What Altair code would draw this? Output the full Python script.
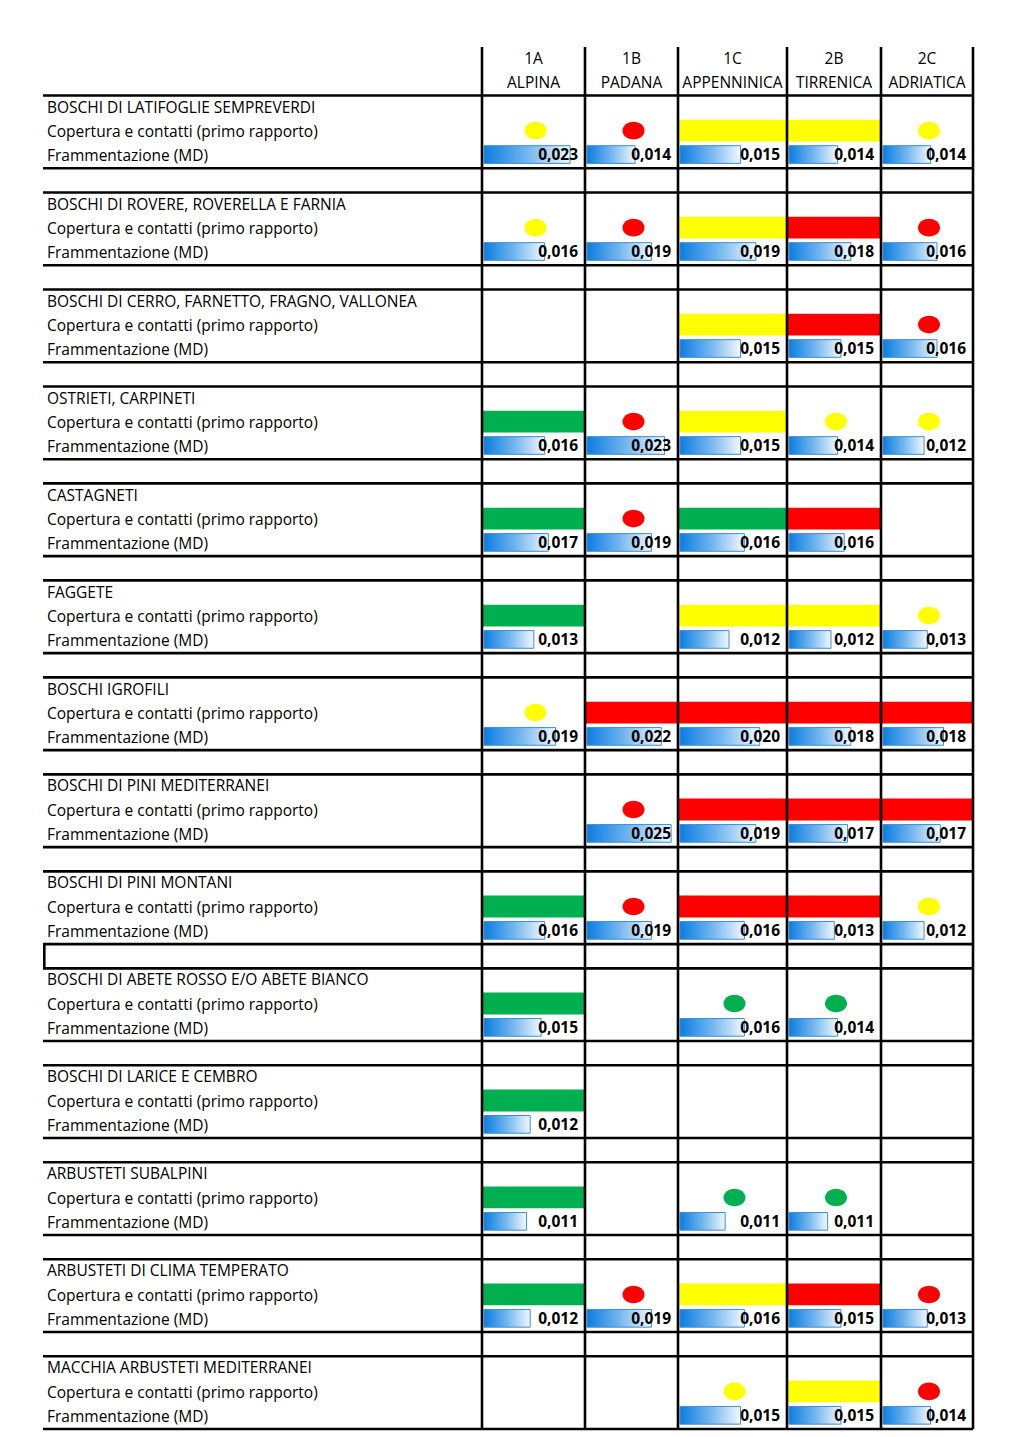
import altair as alt
import pandas as pd

# ---------------- data ----------------
regions = ["1A", "1B", "1C", "2B", "2C"]
region_names = ["ALPINA", "PADANA", "APPENNINICA", "TIRRENICA", "ADRIATICA"]
habitats = [
    "BOSCHI DI LATIFOGLIE SEMPREVERDI",
    "BOSCHI DI ROVERE, ROVERELLA E FARNIA",
    "BOSCHI DI CERRO, FARNETTO, FRAGNO, VALLONEA",
    "OSTRIETI, CARPINETI",
    "CASTAGNETI",
    "FAGGETE",
    "BOSCHI IGROFILI",
    "BOSCHI DI PINI MEDITERRANEI",
    "BOSCHI DI PINI MONTANI",
    "BOSCHI DI ABETE ROSSO E/O ABETE BIANCO",
    "BOSCHI DI LARICE E CEMBRO",
    "ARBUSTETI SUBALPINI",
    "ARBUSTETI DI CLIMA TEMPERATO",
    "MACCHIA ARBUSTETI MEDITERRANEI",
]
row_cop = "Copertura e contatti (primo rapporto)"
row_md = "Frammentazione (MD)"

# coverage class: Y yellow, R red, G green; upper case = full-cell band, lower case = dot
cov_1A = ["y", "y", None, "G", "G", "G", "y", None, "G", "G", "G", "G", "G", None]
cov_1B = ["r", "r", None, "r", "r", None, "R", "r", "r", None, None, None, "r", None]
cov_1C = ["Y", "Y", "Y", "Y", "G", "Y", "R", "R", "R", "g", None, "g", "Y", "y"]
cov_2B = ["Y", "R", "R", "y", "R", "Y", "R", "R", "R", "g", None, "g", "R", "Y"]
cov_2C = ["y", "r", "r", "y", None, "y", "R", "R", "y", None, None, None, "r", "r"]

# fragmentation (MD)
md_1A = [0.023, 0.016, None, 0.016, 0.017, 0.013, 0.019, None, 0.016, 0.015, 0.012, 0.011, 0.012, None]
md_1B = [0.014, 0.019, None, 0.023, 0.019, None, 0.022, 0.025, 0.019, None, None, None, 0.019, None]
md_1C = [0.015, 0.019, 0.015, 0.015, 0.016, 0.012, 0.020, 0.019, 0.016, 0.016, None, 0.011, 0.016, 0.015]
md_2B = [0.014, 0.018, 0.015, 0.014, 0.016, 0.012, 0.018, 0.017, 0.013, 0.014, None, 0.011, 0.015, 0.015]
md_2C = [0.014, 0.016, 0.016, 0.012, None, 0.013, 0.018, 0.017, 0.012, None, None, None, 0.013, 0.014]

covs = [cov_1A, cov_1B, cov_1C, cov_2B, cov_2C]
mds = [md_1A, md_1B, md_1C, md_2B, md_2C]

# ---------------- layout ----------------
FONT = "Open Sans"
N_ROWS = 57           # 2 header rows + 14 blocks of 4 rows (last blank row cut)
H = 1382
LABEL_W = 439
COL_W = [103, 93, 109, 94, 92]
LINE_W = 2.6
BOXED_BLANK = 8        # the blank row after this block is boxed in the reference

ysc = alt.Scale(domain=[0, N_ROWS], reverse=True, nice=False, zero=False)
xsc_md = alt.Scale(domain=[-0.00128, 0.0271], nice=False, zero=False)
col_scale = alt.Scale(domain=["Y", "R", "G"], range=["#FFFF00", "#FF0000", "#00B050"])

grad = {
    "gradient": "linear", "x1": 0, "x2": 1, "y1": 0, "y2": 0,
    "stops": [{"offset": 0, "color": "#0B7DE0"}, {"offset": 0.5, "color": "#72B6EE"},
              {"offset": 1, "color": "#F2F8FE"}],
}
ELLIPSE = "M -1 0 A 1 0.8 0 1 1 1 0 A 1 0.8 0 1 1 -1 0 Z"

bounds = [2] + [b for k in range(14) for b in (5 + 4 * k, 6 + 4 * k) if b <= N_ROWS]
lines_df = pd.DataFrame({"b": bounds})


def hlines(w):
    return alt.Chart(lines_df).mark_rule(color="black", strokeWidth=LINE_W).encode(
        y=alt.Y("b:Q", scale=ysc, axis=None), x=alt.value(0), x2=alt.value(w))


def region_panel(i):
    w = COL_W[i]
    recs = []
    for k in range(14):
        c = covs[i][k]
        v = mds[i][k]
        recs.append({
            "k": k,
            "cls": c.upper() if c else None,
            "kind": ("band" if c.isupper() else "dot") if c else None,
            "md": v,
            "lab": (f"{v:.3f}".replace(".", ",")) if v is not None else None,
            "yb0": 3 + 4 * k, "yb1": 3 + 4 * k + 0.9, "yd": 3 + 4 * k + 0.45,
            "ym0": 4 + 4 * k + 0.07, "ym1": 4 + 4 * k + 0.8, "ymt": 4 + 4 * k + 0.47,
        })
    df = pd.DataFrame(recs)
    base = alt.Chart(df)
    band = base.transform_filter("datum.kind == 'band'").mark_rect().encode(
        x=alt.value(0), x2=alt.value(w),
        y=alt.Y("yb0:Q", scale=ysc, axis=None), y2="yb1:Q",
        color=alt.Color("cls:N", scale=col_scale, legend=None))
    dot = base.transform_filter("datum.kind == 'dot'").mark_point(
        shape=ELLIPSE, filled=True, size=484, opacity=1).encode(
        x=alt.value(w / 2 + 2),
        y=alt.Y("yd:Q", scale=ysc, axis=None),
        color=alt.Color("cls:N", scale=col_scale, legend=None))
    bar = base.transform_filter("isValid(datum.md)").mark_rect(
        color=grad, stroke="#3A8FDA", strokeWidth=1).encode(
        x=alt.X("md:Q", scale=xsc_md, axis=None), x2=alt.value(2),
        y=alt.Y("ym0:Q", scale=ysc, axis=None), y2="ym1:Q")
    txt = base.transform_filter("isValid(datum.md)").mark_text(
        align="right", baseline="middle", font=FONT, fontSize=15.5, fontWeight="bold",
        color="black").encode(
        x=alt.value(w - 7), y=alt.Y("ymt:Q", scale=ysc, axis=None), text="lab:N")
    head_df = pd.DataFrame({"t": [regions[i], region_names[i]], "r": [0.5, 1.5]})
    head = alt.Chart(head_df).mark_text(
        align="center", baseline="middle", font=FONT, fontSize=15.5, color="black").encode(
        x=alt.value(w / 2), y=alt.Y("r:Q", scale=ysc, axis=None), text="t:N")
    vl = alt.Chart(head_df.iloc[:1]).mark_rule(color="black", strokeWidth=LINE_W).encode(
        x=alt.value(0), y=alt.value(0), y2=alt.value(H))
    layers = [band, dot, bar, txt, head, hlines(w), vl]
    if i == len(regions) - 1:
        layers.append(alt.Chart(head_df.iloc[:1]).mark_rule(
            color="black", strokeWidth=LINE_W).encode(
            x=alt.value(w), y=alt.value(0), y2=alt.value(H)))
    return alt.layer(*layers).properties(width=w, height=H)


lab_recs = []
for k, h in enumerate(habitats):
    lab_recs.append({"t": h, "r": 2 + 4 * k + 0.5})
    lab_recs.append({"t": row_cop, "r": 3 + 4 * k + 0.5})
    lab_recs.append({"t": row_md, "r": 4 + 4 * k + 0.5})
lab_df = pd.DataFrame(lab_recs)
labels = alt.Chart(lab_df).mark_text(
    align="left", baseline="middle", font=FONT, fontSize=15.5, color="black").encode(
    x=alt.value(4), y=alt.Y("r:Q", scale=ysc, axis=None), text="t:N")
box_df = pd.DataFrame({"b0": [5 + 4 * BOXED_BLANK], "b1": [6 + 4 * BOXED_BLANK]})
box = alt.Chart(box_df).mark_rule(color="black", strokeWidth=LINE_W).encode(
    x=alt.value(1.3), y=alt.Y("b0:Q", scale=ysc, axis=None), y2="b1:Q")
label_panel = alt.layer(labels, hlines(LABEL_W), box).properties(width=LABEL_W, height=H)

chart = alt.hconcat(label_panel, *[region_panel(i) for i in range(5)],
                    spacing=0, bounds="flush").properties(
    padding={"left": 33, "top": 37, "right": 10, "bottom": 0}
).configure(font=FONT).configure_view(strokeWidth=0, stroke=None)

chart.save("out.html", embed_options={"renderer": "svg", "actions": False})
